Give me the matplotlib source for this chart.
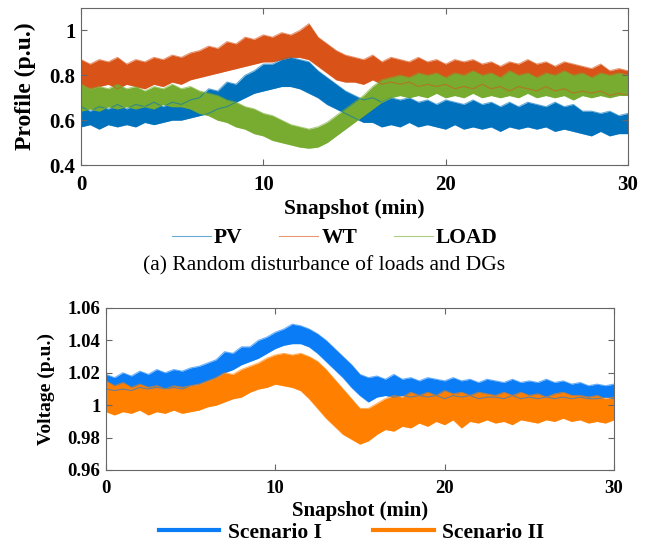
import matplotlib
matplotlib.use('Agg')
import matplotlib.pyplot as plt
import numpy as np
from matplotlib.ticker import FuncFormatter

plt.rcParams['font.family'] = ['Liberation Serif', 'DejaVu Serif']

# snapshot times (min), every 0.5 min
t = np.arange(0, 30.01, 0.5)

# (a) profile bands, upper / lower envelopes
pv_hi = [0.66, 0.64, 0.66, 0.65, 0.67, 0.65, 0.67, 0.66, 0.68, 0.66, 0.68, 0.67, 0.69,
         0.70, 0.74, 0.73, 0.77, 0.76, 0.80, 0.82, 0.85, 0.85, 0.87, 0.88, 0.87, 0.86,
         0.82, 0.79, 0.76, 0.73, 0.71, 0.69, 0.70, 0.68, 0.70, 0.69, 0.70, 0.68, 0.69,
         0.67, 0.69, 0.68, 0.67, 0.69, 0.67, 0.68, 0.66, 0.68, 0.66, 0.68, 0.67, 0.66,
         0.68, 0.66, 0.67, 0.64, 0.64, 0.63, 0.64, 0.62, 0.63]
pv_lo = [0.57, 0.58, 0.56, 0.58, 0.57, 0.58, 0.57, 0.59, 0.58, 0.59, 0.60, 0.60, 0.61,
         0.62, 0.63, 0.65, 0.66, 0.68, 0.70, 0.72, 0.73, 0.74, 0.75, 0.75, 0.74, 0.72,
         0.70, 0.67, 0.65, 0.63, 0.61, 0.59, 0.59, 0.57, 0.58, 0.57, 0.59, 0.57, 0.58,
         0.57, 0.56, 0.58, 0.56, 0.57, 0.56, 0.57, 0.55, 0.57, 0.56, 0.57, 0.56, 0.57,
         0.55, 0.56, 0.55, 0.54, 0.53, 0.55, 0.53, 0.54, 0.54]
wt_hi = [0.87, 0.85, 0.87, 0.86, 0.88, 0.85, 0.87, 0.86, 0.88, 0.87, 0.89, 0.88, 0.90,
         0.91, 0.93, 0.92, 0.95, 0.94, 0.97, 0.96, 0.98, 0.97, 0.99, 0.98, 1.00, 1.03,
         0.97, 0.94, 0.91, 0.89, 0.88, 0.87, 0.89, 0.86, 0.88, 0.87, 0.86, 0.88, 0.86,
         0.87, 0.85, 0.87, 0.86, 0.87, 0.85, 0.86, 0.84, 0.86, 0.85, 0.87, 0.85, 0.86,
         0.84, 0.86, 0.85, 0.84, 0.83, 0.85, 0.82, 0.83, 0.82]
wt_lo = [0.76, 0.74, 0.75, 0.76, 0.74, 0.76, 0.75, 0.74, 0.76, 0.75, 0.77, 0.76, 0.78,
         0.79, 0.80, 0.81, 0.82, 0.83, 0.84, 0.85, 0.86, 0.86, 0.87, 0.88, 0.88, 0.87,
         0.84, 0.81, 0.78, 0.77, 0.77, 0.76, 0.78, 0.76, 0.77, 0.76, 0.77, 0.75, 0.76,
         0.75, 0.76, 0.74, 0.75, 0.74, 0.76, 0.74, 0.75, 0.73, 0.75, 0.74, 0.73, 0.75,
         0.73, 0.74, 0.72, 0.73, 0.72, 0.73, 0.71, 0.72, 0.71]
load_hi = [0.76, 0.74, 0.75, 0.74, 0.76, 0.74, 0.75, 0.73, 0.75, 0.74, 0.76, 0.74, 0.75,
           0.73, 0.72, 0.71, 0.69, 0.68, 0.66, 0.65, 0.63, 0.62, 0.60, 0.58, 0.57, 0.56,
           0.57, 0.59, 0.62, 0.65, 0.68, 0.71, 0.75, 0.78, 0.79, 0.80, 0.79, 0.81, 0.80,
           0.81, 0.79, 0.81, 0.80, 0.82, 0.80, 0.81, 0.79, 0.82, 0.80, 0.81, 0.79, 0.81,
           0.80, 0.82, 0.80, 0.81, 0.79, 0.81, 0.80, 0.81, 0.80]
load_lo = [0.64, 0.65, 0.64, 0.66, 0.65, 0.66, 0.65, 0.66, 0.65, 0.67, 0.66, 0.66, 0.65,
           0.63, 0.62, 0.60, 0.59, 0.57, 0.56, 0.54, 0.53, 0.51, 0.50, 0.49, 0.48, 0.475,
           0.48, 0.50, 0.53, 0.56, 0.59, 0.62, 0.65, 0.68, 0.70, 0.71, 0.70, 0.71, 0.70,
           0.72, 0.70, 0.71, 0.70, 0.72, 0.70, 0.71, 0.70, 0.71, 0.70, 0.72, 0.70, 0.71,
           0.70, 0.71, 0.69, 0.71, 0.70, 0.71, 0.70, 0.71, 0.71]

# (b) voltage bands
s1_hi = [1.019, 1.017, 1.020, 1.018, 1.021, 1.019, 1.022, 1.020, 1.022, 1.021, 1.023,
         1.024, 1.026, 1.028, 1.033, 1.032, 1.036, 1.036, 1.040, 1.042, 1.045, 1.047,
         1.050, 1.049, 1.047, 1.044, 1.040, 1.035, 1.030, 1.025, 1.019, 1.017, 1.018,
         1.016, 1.019, 1.016, 1.017, 1.015, 1.017, 1.016, 1.015, 1.017, 1.015, 1.016,
         1.014, 1.016, 1.015, 1.014, 1.016, 1.014, 1.015, 1.014, 1.016, 1.014, 1.015,
         1.013, 1.014, 1.012, 1.013, 1.012, 1.013]
s1_lo = [1.010, 1.009, 1.010, 1.009, 1.011, 1.010, 1.011, 1.010, 1.011, 1.010, 1.012,
         1.013, 1.015, 1.017, 1.020, 1.022, 1.025, 1.027, 1.029, 1.032, 1.035, 1.037,
         1.038, 1.038, 1.036, 1.032, 1.027, 1.022, 1.017, 1.011, 1.006, 1.002, 1.005,
         1.006, 1.005, 1.006, 1.005, 1.006, 1.005, 1.006, 1.004, 1.006, 1.005, 1.006,
         1.004, 1.005, 1.005, 1.004, 1.006, 1.004, 1.005, 1.004, 1.005, 1.004, 1.005,
         1.004, 1.005, 1.004, 1.004, 1.005, 1.004]
s2_hi = [1.015, 1.012, 1.014, 1.011, 1.013, 1.011, 1.012, 1.010, 1.012, 1.011, 1.012,
         1.013, 1.015, 1.017, 1.020, 1.019, 1.022, 1.024, 1.026, 1.029, 1.031, 1.032,
         1.031, 1.032, 1.030, 1.027, 1.022, 1.016, 1.010, 1.004, 0.998, 0.998, 1.001,
         1.004, 1.006, 1.005, 1.008, 1.006, 1.008, 1.006, 1.009, 1.007, 1.008, 1.006,
         1.008, 1.007, 1.006, 1.008, 1.006, 1.008, 1.006, 1.007, 1.005, 1.007, 1.008,
         1.006, 1.006, 1.005, 1.006, 1.004, 1.005]
s2_lo = [0.996, 0.994, 0.996, 0.995, 0.997, 0.994, 0.996, 0.995, 0.997, 0.995, 0.996,
         0.997, 0.999, 1.000, 1.002, 1.004, 1.005, 1.008, 1.010, 1.011, 1.013, 1.012,
         1.011, 1.009, 1.004, 0.998, 0.992, 0.987, 0.982, 0.979, 0.976, 0.978, 0.982,
         0.985, 0.984, 0.987, 0.986, 0.989, 0.987, 0.990, 0.988, 0.991, 0.986, 0.990,
         0.989, 0.991, 0.989, 0.990, 0.988, 0.991, 0.990, 0.989, 0.991, 0.990, 0.992,
         0.990, 0.991, 0.989, 0.990, 0.989, 0.991]

top_names = ['PV', 'WT', 'LOAD']
top_colors = ['#0072BD', '#D95319', '#77AC30']
bot_names = ['Scenario I', 'Scenario II']
bot_colors = ['#0A7CF5', '#FF8000']

fmt = FuncFormatter(lambda v, p: '%g' % round(v, 3))


def style_axes(ax, size):
    for s in ax.spines.values():
        s.set_color('#666666')
        s.set_linewidth(0.8)
    ax.tick_params(direction='in', top=True, right=True, length=4,
                   color='#666666', labelsize=size)
    ax.tick_params(axis='x', pad=7)
    ax.tick_params(axis='y', pad=4)
    for lab in ax.get_xticklabels() + ax.get_yticklabels():
        lab.set_fontweight('bold')
    ax.yaxis.set_major_formatter(fmt)


def band(ax, hi, lo, color):
    ax.fill_between(t, lo, hi, color=color, linewidth=0)
    ax.plot(t, hi, color=color, lw=0.8, alpha=0.6)
    ax.plot(t, lo, color=color, lw=0.8, alpha=0.6)


fig = plt.figure(figsize=(6.49, 5.46), dpi=100)

# (a) random disturbance of loads and DGs
ax1 = fig.add_axes([0.1248, 0.6978, 0.8428, 0.2875])
handles = []
for hi, lo, c in zip([pv_hi, wt_hi, load_hi], [pv_lo, wt_lo, load_lo], top_colors):
    band(ax1, hi, lo, c)
    handles.append(ax1.plot([], [], color=c, lw=0.8, alpha=0.6)[0])
ax1.set_xlim(0, 30)
ax1.set_ylim(0.4, 1.1)
ax1.set_xticks([0, 10, 20, 30])
ax1.set_yticks([0.4, 0.6, 0.8, 1.0])
style_axes(ax1, 15)
ax1.set_xlabel('Snapshot (min)', fontsize=15.5, fontweight='bold', labelpad=3)
ax1.set_ylabel('Profile (p.u.)', fontsize=17, fontweight='bold', labelpad=10)
fig.legend(handles, top_names, loc='center', bbox_to_anchor=(0.516, 0.564), ncol=3,
           frameon=False, prop={'weight': 'bold', 'size': 15.5}, handlelength=1.8,
           handletextpad=0.15, columnspacing=1.7)
fig.text(0.499, 0.514, '(a) Random disturbance of loads and DGs', ha='center',
         va='center', fontsize=15.5)

# (b) voltage
ax2 = fig.add_axes([0.1633, 0.1392, 0.7827, 0.2967])
handles = []
for hi, lo, c in zip([s1_hi, s2_hi], [s1_lo, s2_lo], bot_colors):
    band(ax2, hi, lo, c)
    handles.append(ax2.plot([], [], color=c, lw=3)[0])
ax2.set_xlim(0, 30)
ax2.set_ylim(0.96, 1.06)
ax2.set_xticks([0, 10, 20, 30])
ax2.set_yticks([0.96, 0.98, 1.0, 1.02, 1.04, 1.06])
style_axes(ax2, 13.5)
ax2.set_xlabel('Snapshot (min)', fontsize=15, fontweight='bold', labelpad=3)
ax2.set_ylabel('Voltage (p.u.)', fontsize=14, fontweight='bold', labelpad=9)
fig.legend(handles, bot_names, loc='center', bbox_to_anchor=(0.542, 0.024), ncol=2,
           frameon=False, prop={'weight': 'bold', 'size': 15.5}, handlelength=2.8,
           handletextpad=0.4, columnspacing=2.4)

fig.savefig('out.png', dpi=100)
